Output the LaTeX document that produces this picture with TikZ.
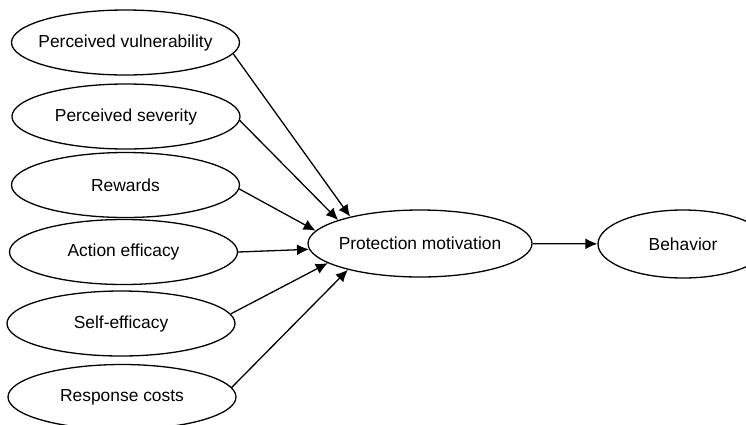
\documentclass[tikz,border=0pt]{standalone}
\usepackage{fontspec}
\setmainfont{Liberation Sans}
\usetikzlibrary{arrows.meta,shapes.geometric}

\begin{document}
\begin{tikzpicture}[x=1pt,y=-1pt,line width=1.3pt,>={Latex[length=12pt,width=11pt]}]
    \tikzstyle{factor}=[draw=black, ellipse, inner sep=0pt, minimum width=228pt, minimum height=65pt, text=black, font=\fontsize{17.4}{20}\selectfont,
      execute at begin node={\hbox to 0pt\bgroup\hss}, execute at end node={\hss\egroup}]
    \tikzstyle{motive}=[style=factor, minimum width=224pt, minimum height=67pt]
    \tikzstyle{result}=[style=factor, minimum width=170pt, minimum height=68pt]
    \useasboundingbox (0,0) rectangle (746,424);
    \node[factor] (V) at (125.5,42.5) {Perceived vulnerability};
    \node[factor] (S) at (126,116.5)  {Perceived severity};
    \node[factor] (R) at (125.5,185)  {Rewards};
    \node[factor] (A) at (123.5,252)  {Action efficacy};
    \node[factor] (E) at (121,323.5)  {Self-efficacy};
    \node[factor] (C) at (122,397)    {Response costs};
    \node[motive] (P) at (420,243.5)  {Protection motivation};
    \node[result] (B) at (683,244)    {Behavior};

    \path[->]
     (V.-6) edge[] (P.159)
     (S.-2) edge[] (P.164)
     (R.-2) edge[] (P.173)
     (A.0)  edge[] (P.183)
     (E.5)  edge[] (P.192)
     (C.5)  edge[] (P.200)
     (P)    edge[] (B);
\end{tikzpicture}
\end{document}
